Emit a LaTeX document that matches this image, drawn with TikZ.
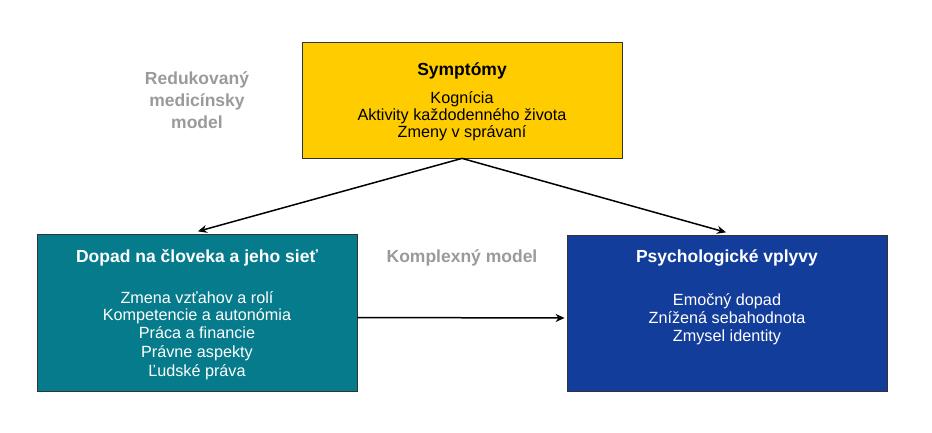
\documentclass[tikz,border=0pt]{standalone}
\usepackage{fontspec}
\setmainfont{Liberation Sans}
\usetikzlibrary{arrows.meta}
\definecolor{symc}{HTML}{FFCC00}
\definecolor{dopc}{HTML}{067B8C}
\definecolor{psyc}{HTML}{133D9B}
\definecolor{edgec}{HTML}{333333}
\definecolor{greyc}{HTML}{9A9A9A}
\tikzset{
  box/.style={draw=edgec, line width=0.8pt, rectangle, minimum width=320pt, inner sep=0pt},
  ttl/.style={font=\fontsize{17.5}{20}\selectfont\bfseries, inner sep=0pt, anchor=base},
  body/.style={font=\fontsize{16.2}{19}\selectfont, inner sep=0pt, anchor=base},
  lbl/.style={font=\fontsize{17.5}{20}\selectfont\bfseries, text=greyc, inner sep=0pt, anchor=base},
  conn/.style={line width=1.5pt, -{Stealth[length=9pt,width=8pt]}}
}
\begin{document}
\begin{tikzpicture}[x=1pt,y=-1pt]
\useasboundingbox (0,0) rectangle (932,433);
\node[box, fill=symc, minimum height=116pt] (sym) at (462,100) {};
\node[box, fill=dopc, minimum height=157pt] (dop) at (197,312.5) {};
\node[box, fill=psyc, minimum height=156pt] (psy) at (727,313) {};
\node[ttl] (symt) at (462,76) {Symptómy};
\node[body] (sym1) at (462,104) {Kognícia};
\node[body] (sym2) at (462,121) {Aktivity každodenného života};
\node[body] (sym3) at (462,138) {Zmeny v správaní};
\begin{scope}[text=white]
\node[ttl] (dopt) at (197,262) {Dopad na človeka a jeho sieť};
\node[body] (dop1) at (197,303) {Zmena vzťahov a rolí};
\node[body] (dop2) at (197,320.5) {Kompetencie a autonómia};
\node[body] (dop3) at (197,338.5) {Práca a financie};
\node[body] (dop4) at (197,357) {Právne aspekty};
\node[body] (dop5) at (197,376) {Ľudské práva};
\node[ttl] (psyt) at (727,262) {Psychologické vplyvy};
\node[body] (psy1) at (727,305) {Emočný dopad};
\node[body] (psy2) at (727,323) {Znížená sebahodnota};
\node[body] (psy3) at (727,341) {Zmysel identity};
\end{scope}
\node[lbl] (red1) at (197,85) {Redukovaný};
\node[lbl] (red2) at (197,107) {medicínsky};
\node[lbl] (red3) at (197,129) {model};
\node[lbl] (kom) at (462,262) {Komplexný model};
\draw[conn, shorten >=1pt] (sym.south) -- ([yshift=2pt]dop.north);
\draw[conn, shorten >=1pt] (sym.south) -- ([yshift=2pt]psy.north);
\draw[conn, shorten >=2pt] ([yshift=-5pt]dop.east) -- ([yshift=-5pt]psy.west);
\end{tikzpicture}
\end{document}
